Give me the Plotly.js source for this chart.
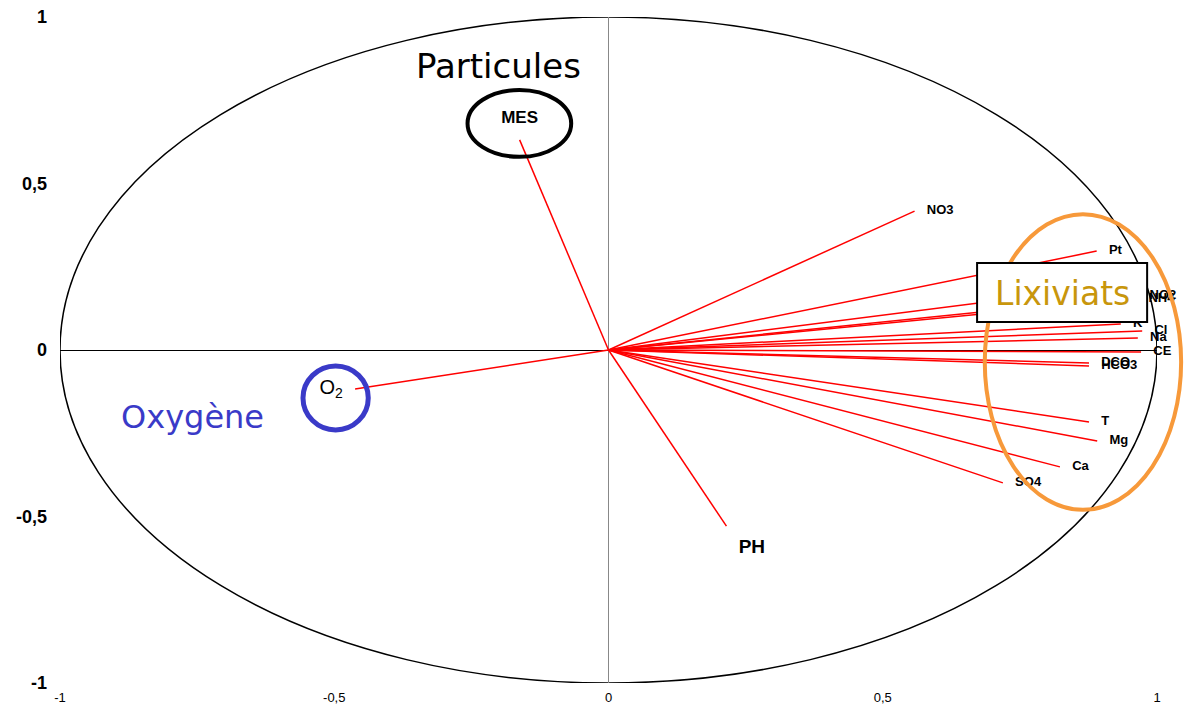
<!DOCTYPE html>
<html><head><meta charset="utf-8">
<script src="https://cdn.plot.ly/plotly-3.0.1.min.js"></script>
<style>html,body{margin:0;padding:0;background:#fff;} #chart{width:1187px;height:715px;}</style>
</head><body><div id="chart"></div>
<script>
// Correlation circle: variable coordinates on factorial axes F1 (x) and F2 (y)
const variables = ["MES","O<sub>2</sub>","PH","NO3","Pt","DBO5","NH4","NO2","K","Cl","Na","CE","DCO","HCO3","T","Mg","Ca","SO4"];
const compX = [-0.162,-0.462,0.215,0.558,0.890,0.889,0.962,0.964,0.934,0.973,0.965,0.971,0.876,0.876,0.876,0.891,0.823,0.719];
const compY = [0.631,-0.117,-0.529,0.417,0.297,0.186,0.153,0.162,0.078,0.057,0.036,-0.006,-0.039,-0.048,-0.216,-0.273,-0.351,-0.399];
const labelPosition = ["top center","middle left","bottom right","middle right","middle right","middle right","middle right","middle right","middle right","middle right","middle right","middle right","middle right","middle right","middle right","middle right","middle right","middle right"];
const labelSize = [17,20,19,13,13,13,13,13,13,13,13,13,13,13,13,13,13,13];
const labelBold = [true,false,true,true,true,true,true,true,true,true,true,true,true,true,true,true,true,true];
const tickValues = [-1,-0.5,0,0.5,1];
const tickLabels = ["-1","-0,5","0","0,5","1"];

const lx = [], ly = [];
compX.forEach((v,i)=>{ lx.push(0, v, null); ly.push(0, compY[i], null); });

const lines = {
  x: lx, y: ly, mode: "lines", type: "scatter",
  line: {color: "#ff0000", width: 1.5}, hoverinfo: "skip", showlegend: false
};
const labels = {
  x: compX, y: compY, mode: "markers+text", type: "scatter",
  marker: {size: 18, color: "rgba(0,0,0,0)"},
  text: variables.map((t,i)=> labelBold[i] ? "<b>"+t+"</b>" : t),
  textposition: labelPosition,
  textfont: {family: "Liberation Sans, Arial, sans-serif", size: labelSize, color: "#000"},
  cliponaxis: false,
  hoverinfo: "skip", showlegend: false
};

const layout = {
  width: 1187, height: 715,
  margin: {l: 60, r: 30, t: 17, b: 32},
  paper_bgcolor: "#fff", plot_bgcolor: "#fff",
  showlegend: false,
  xaxis: {
    range: [-1, 1], tickvals: tickValues, ticktext: tickLabels,
    showgrid: false, showline: false, ticks: "",
    zeroline: true, zerolinecolor: "#888", zerolinewidth: 1.5,
    tickfont: {family: "Liberation Sans Narrow, Liberation Sans, Arial", size: 13, color: "#000"},
    ticklabelstandoff: 5, fixedrange: true
  },
  yaxis: {
    range: [-1, 1], tickvals: tickValues, ticktext: tickLabels,
    showgrid: false, showline: false, ticks: "",
    zeroline: true, zerolinecolor: "#000", zerolinewidth: 1,
    tickfont: {family: "Liberation Sans, Arial", size: 18, color: "#000", weight: "bold"},
    ticklabelstandoff: 12, fixedrange: true
  },
  shapes: [
    {type: "circle", xref: "x", yref: "y", x0: -1, x1: 1, y0: -1, y1: 1, line: {color: "#000", width: 1.5}, layer: "below"},
    {type: "circle", xref: "x", yref: "y", x0: -0.257, x1: -0.068, y0: 0.580, y1: 0.781, line: {color: "#000", width: 4}},
    {type: "circle", xref: "x", yref: "y", x0: -0.557, x1: -0.438, y0: -0.240, y1: -0.048, line: {color: "#3a3ac8", width: 5}},
    {type: "circle", xref: "paper", yref: "paper", x0: 0.843, x1: 1.022, y0: 0.26, y1: 0.704, line: {color: "#f7993a", width: 4}, layer: "above"},
    {type: "rect", xref: "x", yref: "y", x0: 0.672, x1: 0.982, y0: 0.084, y1: 0.261, fillcolor: "#fff", line: {color: "#000", width: 2}, layer: "above"}
  ],
  annotations: [
    {xref: "x", yref: "y", x: -0.2, y: 0.852, text: "Particules", showarrow: false,
     font: {family: "DejaVu Sans, Noto Sans", size: 34, color: "#000"}},
    {xref: "x", yref: "y", x: -0.758, y: -0.2, text: "Oxygène", showarrow: false,
     font: {family: "DejaVu Sans, Noto Sans", size: 32, color: "#3a3ac8"}},
    {xref: "x", yref: "y", x: 0.827, y: 0.171, text: "Lixiviats", showarrow: false,
     font: {family: "DejaVu Sans, Noto Sans", size: 33, color: "#c8960c"}}
  ]
};

Plotly.newPlot("chart", [lines, labels], layout, {displayModeBar: false, staticPlot: true});
</script>
</body></html>
